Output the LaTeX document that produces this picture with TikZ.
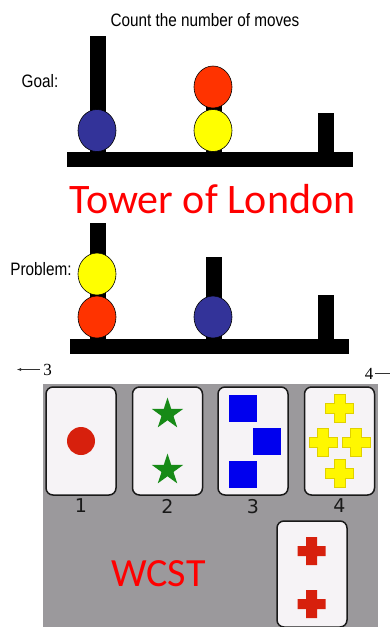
\documentclass[tikz,border=0pt]{standalone}
\usepackage{fontspec}
\setmainfont{Liberation Sans}
\newfontfamily\calibri{Carlito}
\newfontfamily\timesf{Liberation Serif}
\newfontfamily\dejavu{DejaVu Sans}
\usetikzlibrary{shapes.geometric, positioning}

\definecolor{ballblue}{HTML}{333399}
\definecolor{ballred}{HTML}{FF3300}
\definecolor{ballyellow}{HTML}{FFFF00}
\definecolor{wcstgray}{HTML}{9B999C}
\definecolor{cardwhite}{HTML}{F6F3F6}
\definecolor{cardred}{HTML}{D7200D}
\definecolor{cardgreen}{HTML}{178A17}
\definecolor{cardblue}{HTML}{0000EE}
\definecolor{crossyellow}{HTML}{FFF700}
\definecolor{crossedge}{HTML}{E0D000}

\begin{document}
\begin{tikzpicture}[
    x=1pt, y=-1pt,
    every node/.style={inner sep=0pt},
    label text/.style={font=\fontsize{18}{18}\selectfont, xscale=0.85, anchor=base},
    title text/.style={text=red, font=\calibri\fontsize{42}{42}\selectfont, anchor=base},
    ball/.style={ellipse, draw=black, semithick, minimum width=38pt, minimum height=42pt},
    card/.style={rectangle, rounded corners=7pt, draw=black!90, line width=1.5pt, fill=cardwhite, minimum width=70pt, minimum height=108pt},
    card number/.style={font=\dejavu\fontsize{19}{19}\selectfont, text=black!90},
    green star/.style={star, star points=5, star point ratio=2.618, minimum size=33pt, fill=cardgreen},
    blue square/.style={rectangle, fill=cardblue, minimum width=28pt, minimum height=27pt},
    page number/.style={font=\timesf\fontsize{17}{17}\selectfont, anchor=base},
    plus/.pic={\path[pic actions] (-5.5,-14) -- (5.5,-14) -- (5.5,-5) -- (14,-5) -- (14,5) -- (5.5,5)
        -- (5.5,14) -- (-5.5,14) -- (-5.5,5) -- (-14,5) -- (-14,-5) -- (-5.5,-5) -- cycle;}
]
\clip (0,0) rectangle (390,627);

% Goal
\node[label text] (count) at (205,26) {Count the number of moves};
\node[label text] (goal) at (40,87) {Goal:};
\fill (67,152) rectangle (353,167);
\fill (90,36) rectangle (106,152);
\fill (206,80) rectangle (222,152);
\fill (318,113) rectangle (334,152);
\node[ball, fill=ballblue] (goalblue) at (97,130.5) {};
\node[ball, fill=ballyellow] (goalyellow) at (213,130.5) {};
\node[ball, fill=ballred] (goalred) at (213,87) {};

\node[title text] (tol) at (212.5,213) {Tower of London};

% Problem
\node[label text] (problem) at (41,275) {Problem:};
\fill (70,339) rectangle (349,354);
\fill (90,223) rectangle (106,339);
\fill (206,257) rectangle (222,339);
\fill (318,295) rectangle (334,339);
\node[ball, fill=ballred] (probred) at (97,317) {};
\node[ball, fill=ballyellow] (probyellow) at (97,274) {};
\node[ball, fill=ballblue] (probblue) at (213,317) {};

% Page marks
\node[page number] (three) at (47.5,375) {3};
\coordinate (threeend) at (17,369.5);
\draw[black!80, thin, -latex] ([xshift=-3pt,yshift=5.5pt]three.base west) -- (threeend);
\node[page number] (four) at (369,379) {4};
\coordinate (fourend) at (390,373);
\draw[black!80, thin] ([xshift=2pt,yshift=6pt]four.base east) -- (fourend);

% WCST
\fill[wcstgray] (43,384) rectangle (378,627);
\node[card] (card1) at (81,441) {};
\node[card] (card2) at (167.5,441) {};
\node[card] (card3) at (253,441) {};
\node[card] (card4) at (339.5,441) {};
\foreach \i in {1,...,4}
    \node[card number, below=3pt of card\i] (num\i) {\i};

\node[circle, fill=cardred, minimum size=28pt] (dot) at (card1.center) {};
\node[green star] (star1) at ([yshift=27pt]card2.center) {};
\node[green star] (star2) at ([yshift=-29pt]card2.center) {};
\node[blue square] (sq1) at ([xshift=-10pt,yshift=32.5pt]card3.center) {};
\node[blue square] (sq2) at ([xshift=14pt]card3.center) {};
\node[blue square] (sq3) at ([xshift=-10pt,yshift=-33pt]card3.center) {};
\pic[fill=crossyellow, draw=crossedge] at ([yshift=33pt]card4.center) {plus};
\pic[fill=crossyellow, draw=crossedge] at ([xshift=-16.5pt,yshift=-1pt]card4.center) {plus};
\pic[fill=crossyellow, draw=crossedge] at ([xshift=16.5pt,yshift=-1pt]card4.center) {plus};
\pic[fill=crossyellow, draw=crossedge] at ([yshift=-32pt]card4.center) {plus};

\node[card, minimum height=106pt] (card5) at (312,574) {};
\pic[fill=cardred] at ([xshift=-0.5pt,yshift=23pt]card5.center) {plus};
\pic[fill=cardred] at ([xshift=-0.5pt,yshift=-30pt]card5.center) {plus};
\node[title text, font=\calibri\fontsize{40}{40}\selectfont] (wcst) at (158.5,586) {WCST};

\end{tikzpicture}
\end{document}
